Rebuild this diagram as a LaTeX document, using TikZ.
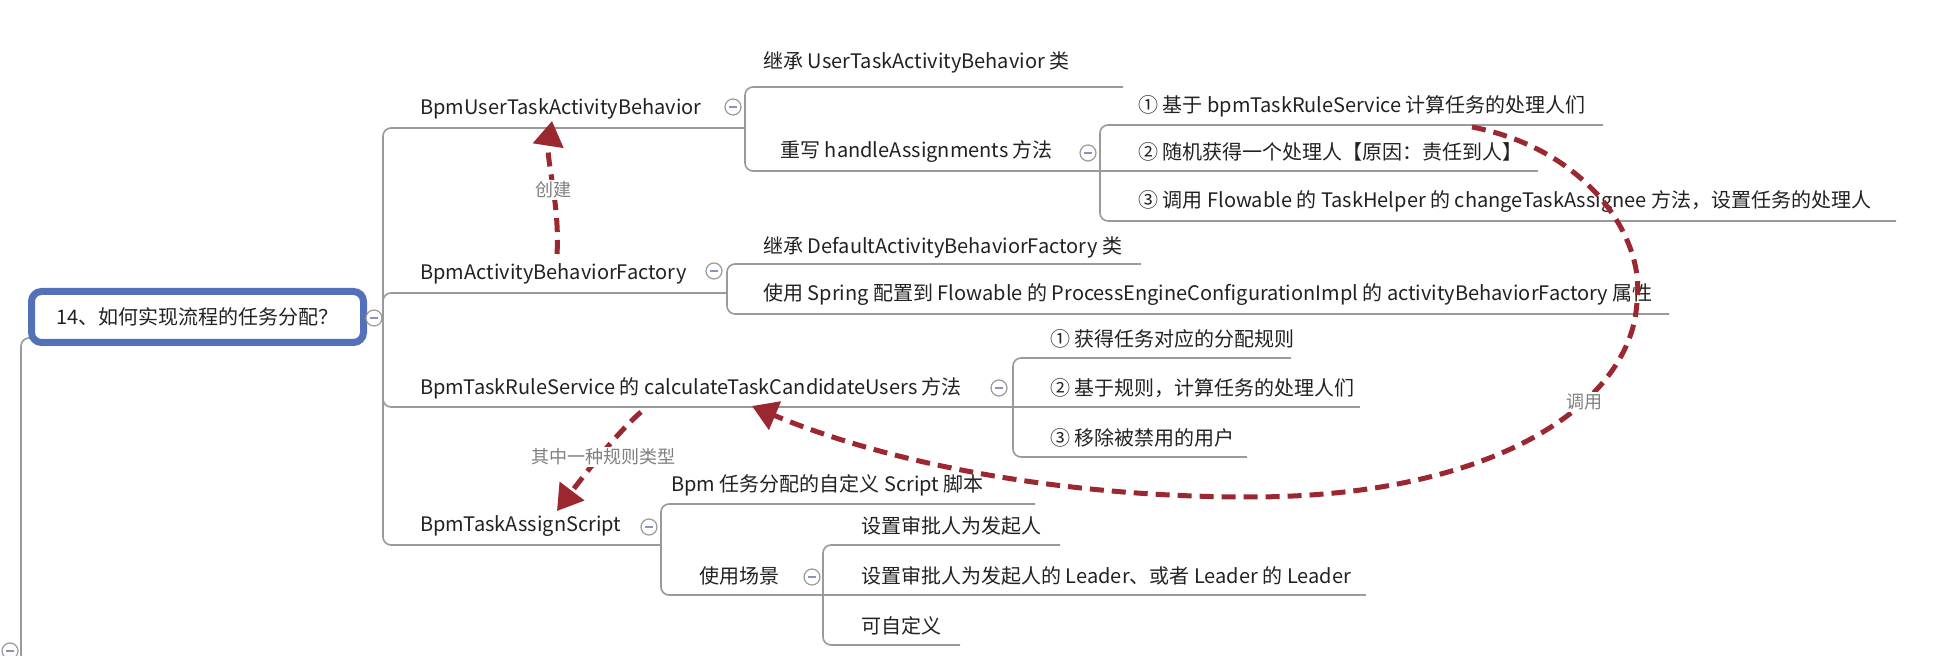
\documentclass[tikz,border=0pt]{standalone}
\usepackage{fontspec}
\setmainfont{Noto Sans CJK SC}
\usetikzlibrary{arrows.meta}
\definecolor{linegray}{HTML}{9A9A9A}
\definecolor{boxblue}{HTML}{5470B8}
\definecolor{arrowred}{HTML}{9B2730}
\definecolor{txt}{HTML}{222222}
\definecolor{lbl}{HTML}{808080}
\definecolor{minusc}{HTML}{8A93B8}
\begin{document}
\begin{tikzpicture}[x=0.5pt,y=-0.5pt,
  topic/.style={anchor=west, inner sep=0pt, text=txt, font=\fontsize{10pt}{12pt}\selectfont},
  conn/.style={draw=linegray, line width=0.8pt, rounded corners=4pt},
  fold/.style={circle, draw=linegray, fill=white, line width=0.6pt, minimum size=8pt, inner sep=0pt,
    path picture={\draw[minusc, line width=0.7pt] ([xshift=-2pt]path picture bounding box.center) -- ([xshift=2pt]path picture bounding box.center);}},
  rootbox/.style={draw=boxblue, line width=3.5pt, rounded corners=5pt, fill=white, minimum width=166pt, minimum height=25.5pt, inner sep=0pt, text=txt, font=\fontsize{10pt}{12pt}\selectfont},
  relarrow/.style={draw=arrowred, line width=2.5pt, dash pattern=on 7pt off 4pt, -{Triangle[length=12.5pt,width=15pt]}},
  rellabel/.style={fill=white, text=lbl, inner sep=1pt, font=\fontsize{9pt}{11pt}\selectfont}
]
\useasboundingbox (0,0) rectangle (1956,656);
\fill[white] (0,0) rectangle (1956,656);

% parent line of root (off picture)
\coordinate (up0) at (21,662);
\coordinate (up1) at (80,338);
\draw[conn] (up0) |- (up1);
\node[fold] (f0) at (10,651) {};

% root
\node[rootbox] (root) at (197.5,317) {14、如何实现流程的任务分配？};
\node[fold] (froot) at (374,318) {};
\coordinate (j0) at (383,318);
\draw[conn] (froot) -- (j0);

% level 1 bus ends
\coordinate (e1) at (745,128);
\coordinate (e2) at (727,293);
\coordinate (e3) at (1013,407);
\coordinate (e4) at (661,545);
\draw[conn] (j0) |- (e1);
\draw[conn] (j0) |- (e2);
\draw[conn] (j0) |- (e3);
\draw[conn] (j0) |- (e4);

\node[topic] (b1) at (420,109) {BpmUserTaskActivityBehavior};
\node[topic] (b2) at (420,274) {BpmActivityBehaviorFactory};
\node[topic] (b3) at (420,388) {BpmTaskRuleService 的 calculateTaskCandidateUsers 方法};
\node[topic] (b4) at (420,526) {BpmTaskAssignScript};
\node[fold] (fb1) at (733,107) {};
\node[fold] (fb2) at (714,271) {};
\node[fold] (fb3) at (999,388) {};
\node[fold] (fb4) at (649,527) {};

% children of b1
\coordinate (e1a) at (1123,87);
\coordinate (e1b) at (1100,171);
\draw[conn] (e1) |- (e1a);
\draw[conn] (e1) |- (e1b);
\node[topic] (b1a) at (763,62) {继承 UserTaskActivityBehavior 类};
\node[topic] (b1b) at (780,152) {重写 handleAssignments 方法};
\node[fold] (fb1b) at (1088,153) {};

\coordinate (e1b1) at (1603,125);
\coordinate (e1b2) at (1538,171);
\coordinate (e1b3) at (1896,221);
\draw[conn] (e1b) |- (e1b1);
\draw[conn] (e1b) -- (e1b2);
\draw[conn] (e1b) |- (e1b3);
\node[topic] (b1b1) at (1138,106) {① 基于 bpmTaskRuleService 计算任务的处理人们};
\node[topic] (b1b2) at (1138,152) {② 随机获得一个处理人【原因：责任到人】};
\node[topic] (b1b3) at (1138,202) {③ 调用 Flowable 的 TaskHelper 的 changeTaskAssignee 方法，设置任务的处理人};

% children of b2
\coordinate (e2a) at (1141,264);
\coordinate (e2b) at (1669,314);
\draw[conn] (e2) |- (e2a);
\draw[conn] (e2) |- (e2b);
\node[topic] (b2a) at (763,247) {继承 DefaultActivityBehaviorFactory 类};
\node[topic] (b2b) at (763,295) {使用 Spring 配置到 Flowable 的 ProcessEngineConfigurationImpl 的 activityBehaviorFactory 属性};

% children of b3
\coordinate (e3a) at (1291,358);
\coordinate (e3b) at (1360,407);
\coordinate (e3c) at (1247,457);
\draw[conn] (e3) |- (e3a);
\draw[conn] (e3) -- (e3b);
\draw[conn] (e3) |- (e3c);
\node[topic] (b3a) at (1050,339) {① 获得任务对应的分配规则};
\node[topic] (b3b) at (1050,388) {② 基于规则，计算任务的处理人们};
\node[topic] (b3c) at (1050,438) {③ 移除被禁用的用户};

% children of b4
\coordinate (e4a) at (1035,504);
\coordinate (e4b) at (823,595);
\draw[conn] (e4) |- (e4a);
\draw[conn] (e4) |- (e4b);
\node[topic] (b4a) at (671,485) {Bpm 任务分配的自定义 Script 脚本};
\node[topic] (b4b) at (699,576) {使用场景};
\node[fold] (fb4b) at (812,577) {};

\coordinate (e4b1) at (1060,545);
\coordinate (e4b2) at (1366,595);
\coordinate (e4b3) at (960,645);
\draw[conn] (e4b) |- (e4b1);
\draw[conn] (e4b) -- (e4b2);
\draw[conn] (e4b) |- (e4b3);
\node[topic] (b4b1) at (861,526) {设置审批人为发起人};
\node[topic] (b4b2) at (861,576) {设置审批人为发起人的 Leader、或者 Leader 的 Leader};
\node[topic] (b4b3) at (861,626) {可自定义};

% relation arrows
\coordinate (a1s) at (557,254);
\coordinate (a1e) at (552,121);
\draw[relarrow] (a1s) .. controls (560,205) and (546,160) .. (a1e);
\node[rellabel] (l1) at (553,190) {创建};

\coordinate (a2s) at (641,412);
\coordinate (a2e) at (557,511);
\draw[relarrow] (a2s) .. controls (618,432) and (588,470) .. (a2e);
\node[rellabel] (l2) at (603,457) {其中一种规则类型};

\coordinate (a3s) at (1472,127);
\coordinate (a3m1) at (1637,300);
\coordinate (a3m2) at (1250,497);
\coordinate (a3e) at (752,406);
\draw[relarrow] (a3s) .. controls (1590,150) and (1645,240) .. (a3m1)
  .. controls (1634,400) and (1500,497) .. (a3m2)
  .. controls (1050,497) and (880,460) .. (a3e);
\node[rellabel] (l3) at (1584,402) {调用};
\end{tikzpicture}
\end{document}
